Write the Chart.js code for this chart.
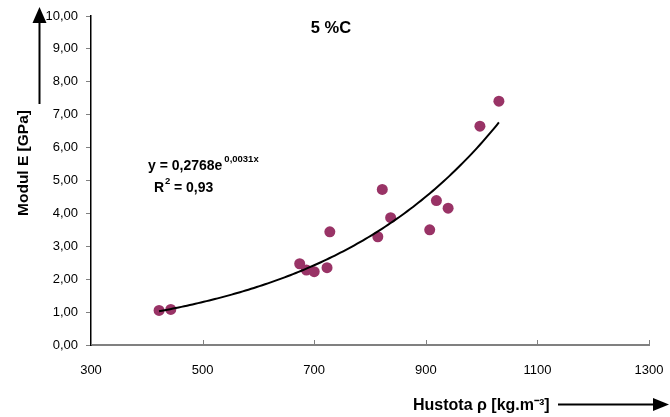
<!DOCTYPE html>
<html>
<head>
<meta charset="utf-8">
<script src="https://cdn.jsdelivr.net/npm/chart.js@4"></script>
<style>
	body { margin: 0; background: #fff; }
	canvas { display: block; }
</style>
</head>
<body>
<canvas id="myChart" width="670" height="417"></canvas>
<script>
// density [kg.m-3] and modulus E [GPa]
const density = [422, 443, 674, 686, 700, 723, 728, 814, 822, 837, 907, 919, 940, 997, 1031];
const modulus = [1.05, 1.08, 2.47, 2.28, 2.23, 2.35, 3.44, 3.29, 4.73, 3.87, 3.50, 4.39, 4.16, 6.65, 7.41];

// exponential trendline as printed on the chart: y = A * e^(B*x)
const trendA = 0.2768;
const trendB = 0.0031;
const trendFrom = 422;
const trendTo = 1031;

const xTicks = [300, 500, 700, 900, 1100, 1300];
const yTicks = [0, 1, 2, 3, 4, 5, 6, 7, 8, 9, 10];

const chartTitle = "5 %C";
const yTitle = "Modul E [GPa]";
const xTitle = "Hustota ρ [kg.m⁻³]";

let points = density.map((d, i) => ({ x: d, y: modulus[i] }));
let trend = [];
for (let x = trendFrom; x <= trendTo; x += 10) {
	trend.push({ x: x, y: trendA * Math.exp(trendB * x) });
}
trend.push({ x: trendTo, y: trendA * Math.exp(trendB * trendTo) });

const fmt = (v) => v.toFixed(2).replace(".", ",");
const FONT = "Arial, 'Liberation Sans'";

// inward x ticks, titles, equation and the arrows
const extras = {
	id: "extras",
	afterDraw(chart) {
		const ctx = chart.ctx;
		const xs = chart.scales.x;
		const area = chart.chartArea;
		ctx.save();
		ctx.strokeStyle = "#808080";
		ctx.lineWidth = 1;
		xTicks.forEach((t) => {
			const px = Math.round(xs.getPixelForValue(t)) + 0.5;
			ctx.beginPath();
			ctx.moveTo(px, area.bottom);
			ctx.lineTo(px, area.bottom - 5);
			ctx.stroke();
		});

		ctx.fillStyle = "#000";
		ctx.textBaseline = "alphabetic";
		ctx.font = "bold 16.5px " + FONT;
		ctx.textAlign = "center";
		ctx.fillText(chartTitle, 331, 33);

		// equation
		ctx.textAlign = "left";
		ctx.font = "bold 14px " + FONT;
		ctx.fillText("y = 0,2768e", 148, 170);
		let w = ctx.measureText("y = 0,2768e").width;
		ctx.font = "bold 9.5px " + FONT;
		ctx.fillText("0,0031x", 148 + w + 2, 162);
		ctx.font = "bold 14px " + FONT;
		ctx.fillText("R", 154, 192);
		let rw = ctx.measureText("R").width;
		ctx.font = "bold 9.5px " + FONT;
		ctx.fillText("2", 154 + rw + 1, 184);
		ctx.font = "bold 14px " + FONT;
		ctx.fillText(" = 0,93", 154 + rw + 6, 192);

		// y title + arrow
		ctx.save();
		ctx.translate(28, 163);
		ctx.rotate(-Math.PI / 2);
		ctx.textAlign = "center";
		ctx.font = "bold 15.5px " + FONT;
		ctx.fillText(yTitle, 0, 0);
		ctx.restore();
		ctx.strokeStyle = "#000";
		ctx.lineWidth = 2;
		ctx.beginPath();
		ctx.moveTo(39.5, 104);
		ctx.lineTo(39.5, 20);
		ctx.stroke();
		ctx.beginPath();
		ctx.moveTo(39.5, 7);
		ctx.lineTo(32.5, 23);
		ctx.lineTo(46.5, 23);
		ctx.closePath();
		ctx.fill();

		// x title + arrow
		ctx.textAlign = "left";
		ctx.font = "bold 16px " + FONT;
		ctx.fillText(xTitle, 413, 410);
		ctx.beginPath();
		ctx.moveTo(558, 404.5);
		ctx.lineTo(656, 404.5);
		ctx.stroke();
		ctx.beginPath();
		ctx.moveTo(669, 404.5);
		ctx.lineTo(653, 398);
		ctx.lineTo(653, 411);
		ctx.closePath();
		ctx.fill();
		ctx.restore();
	},
};

let ctx = document.querySelector("#myChart").getContext("2d");
let chart = new Chart(ctx, {
	type: "scatter",
	data: {
		datasets: [
			{
				label: "E",
				data: points,
				backgroundColor: "#993366",
				borderColor: "#993366",
				pointRadius: 5.5,
				pointBorderWidth: 0,
				order: 1,
			},
			{
				label: "trend",
				type: "line",
				data: trend,
				borderColor: "#000",
				borderWidth: 2,
				pointRadius: 0,
				fill: false,
				tension: 0.3,
				order: 0,
			},
		],
	},
	options: {
		responsive: false,
		devicePixelRatio: 1,
		animation: false,
		layout: { padding: { top: 16, right: 21, left: 0, bottom: 0 } },
		plugins: { legend: { display: false }, tooltip: { enabled: false } },
		scales: {
			x: {
				type: "linear",
				min: 300,
				max: 1300,
				afterBuildTicks: (s) => { s.ticks = xTicks.map((v) => ({ value: v })); },
				afterFit: (s) => {
					s.height = 72;
					s.paddingLeft = 0;
					s.paddingRight = 0;
				},
				grid: { drawOnChartArea: false, drawTicks: false },
				border: { color: "#808080", width: 2 },
				ticks: {
					padding: 18,
					color: "#000",
					font: { family: FONT, size: 13 },
					maxRotation: 0,
					callback: (v) => String(v),
				},
			},
			y: {
				min: 0,
				max: 10,
				afterBuildTicks: (s) => { s.ticks = yTicks.map((v) => ({ value: v })); },
				afterFit: (s) => { s.width = 91; },
				grid: { drawOnChartArea: false, drawTicks: true, tickLength: 5, color: "#808080" },
				border: { color: "#000", width: 1.5 },
				ticks: {
					padding: 8,
					color: "#000",
					font: { family: FONT, size: 13 },
					callback: (v) => fmt(v),
				},
			},
		},
	},
	plugins: [extras],
});
</script>
</body>
</html>
